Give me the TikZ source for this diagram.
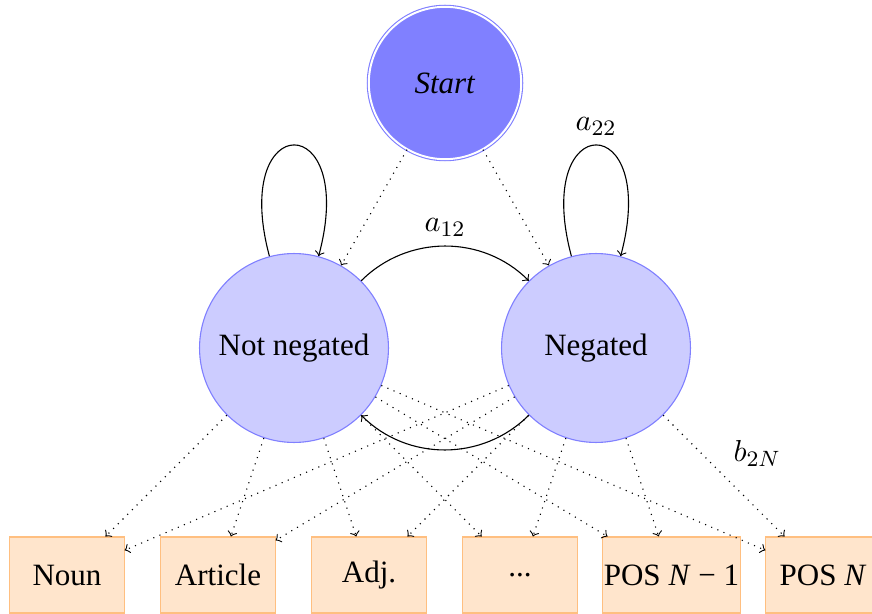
\documentclass[tikz,border=0pt]{standalone}
\usepackage{fontspec}
\setmainfont{Liberation Serif}
\usetikzlibrary{arrows}
\tikzset{
  stnode/.style={circle,draw=blue!50,fill=blue!20,minimum size=68.2pt,inner sep=0pt},
  startnode/.style={circle,draw=blue!50,double=white,double distance=0.7pt,fill=blue!50,minimum size=55pt,inner sep=0pt},
  posnode/.style={rectangle,draw=orange!50,fill=orange!20,minimum width=41.2pt,minimum height=27.4pt,inner sep=2pt},
  emit/.style={dotted,->},
  trans/.style={->}
}
\begin{document}
\begin{tikzpicture}[x=0.361pt,y=-0.361pt,font=\fontsize{11.2}{13}\selectfont]
\useasboundingbox (0,0) rectangle (872,614);
\node[startnode] (start) at (445,83) {\textit{Start}};
\node[stnode] (nn) at (294,348) {Not negated};
\node[stnode] (ng) at (596,348) {Negated};
\node[posnode] (noun) at (67,575) {Noun};
\node[posnode] (art) at (218,575) {Article};
\node[posnode] (adj) at (369,575) {Adj.};
\node[posnode] (dots) at (520,575) {...};
\node[posnode,inner xsep=0.5pt,minimum width=48pt] (posm) at (671.5,575) {POS \textit{N} − 1};
\node[posnode] (posn) at (823,575) {POS \textit{N}};
\draw[emit] (start) -- (nn);
\draw[emit] (start) -- (ng);
\draw[trans] (nn) to[loop above] (nn);
\draw[trans] (ng) to[loop above] node[above] {$a_{22}$} (ng);
\draw[trans] (nn) to[bend left=45] node[above] {$a_{12}$} (ng);
\draw[trans] (ng) to[bend left=45] (nn);
\foreach \t in {noun,art,adj,dots,posm,posn} {
  \draw[emit] (nn) -- (\t);
}
\foreach \t in {noun,art,adj,dots,posm} {
  \draw[emit] (ng) -- (\t);
}
\draw[emit] (ng) -- node[above right] {$b_{2N}$} (posn);
\end{tikzpicture}
\end{document}
